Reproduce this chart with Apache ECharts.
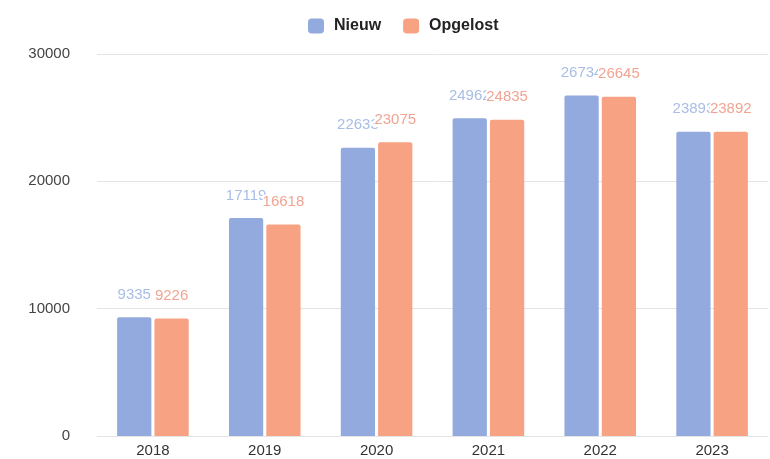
<!DOCTYPE html>
<html><head><meta charset="utf-8">
<script src="https://cdn.jsdelivr.net/npm/echarts@6/dist/echarts.min.js"></script>
<style>html,body{margin:0;padding:0;background:#fff}#c{width:770px;height:459px}</style>
</head><body><div id="c"></div>
<script>
var categories = ['2018','2019','2020','2021','2022','2023'];
var nieuw = [9335, 17119, 22633, 24962, 26734, 23893];
var opgelost = [9226, 16618, 23075, 24835, 26645, 23892];
var yTicks = [0, 10000, 20000, 30000];

var chart = echarts.init(document.getElementById('c'));
chart.setOption({
  animation: false,
  textStyle: {fontFamily: 'Liberation Sans, Arial, sans-serif'},
  legend: {
    top: 13, left: 303, itemWidth: 16, itemHeight: 15, itemGap: 22,
    icon: 'roundRect',
    textStyle: {fontSize: 16, fontWeight: 'bold', color: '#222', padding: [0, 0, 0, 5]},
    data: ['Nieuw', 'Opgelost']
  },
  grid: {left: 97, right: 2, top: 54, bottom: 23},
  xAxis: {
    type: 'category', data: categories,
    axisLine: {show: false}, axisTick: {show: false},
    axisLabel: {fontSize: 15, color: '#333', margin: 7}
  },
  yAxis: {
    type: 'value', min: yTicks[0], max: yTicks[yTicks.length-1], interval: 10000,
    axisLabel: {fontSize: 15, color: '#444', margin: 27, formatter: function (v) { return String(v); }},
    splitLine: {lineStyle: {color: '#e4e4e4'}}
  },
  series: [
    {name: 'Nieuw', type: 'bar', data: nieuw, barGap: '9%', barCategoryGap: '36%',
     itemStyle: {color: '#92aadd', borderRadius: [2,2,0,0]},
     label: {show: true, position: 'top', distance: 15, fontSize: 15, color: '#a9bde6'}},
    {name: 'Opgelost', type: 'bar', data: opgelost,
     itemStyle: {color: '#f6a283', borderRadius: [2,2,0,0]},
     label: {show: true, position: 'top', distance: 15, fontSize: 15, color: '#f1a493', backgroundColor: '#fff'}}
  ]
});
</script></body></html>
